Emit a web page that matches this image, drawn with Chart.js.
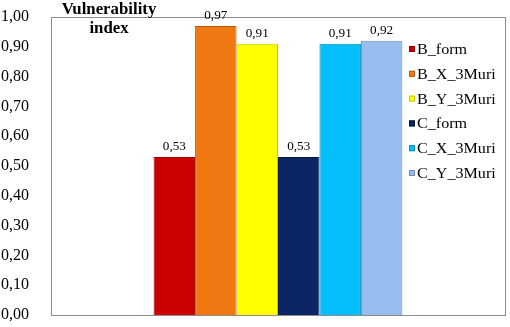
<!DOCTYPE html>
<html>
<head>
<meta charset="utf-8">
<script src="https://cdn.jsdelivr.net/npm/chart.js@4/dist/chart.umd.min.js"></script>
<style>
  html, body { margin: 0; padding: 0; background: #fff; }
  #wrap { width: 510px; height: 327px; }
</style>
</head>
<body>
<div id="wrap"><canvas id="chart-vulnerability"></canvas></div>
<script>
var seriesNames = ['B_form', 'B_X_3Muri', 'B_Y_3Muri', 'C_form', 'C_X_3Muri', 'C_Y_3Muri'];
var seriesValues = [0.53, 0.97, 0.91, 0.53, 0.91, 0.92];
var seriesColors = ['#cc0000', '#f07812', '#ffff00', '#0b2565', '#05bffc', '#97bdee'];
var edgeColors = ['#9a0000', '#b85a0c', '#c8c800', '#061840', '#0390c0', '#7090b8'];
var yTicks = [0, 0.1, 0.2, 0.3, 0.4, 0.5, 0.6, 0.7, 0.8, 0.9, 1.0];
var axisTitle = ['Vulnerability', 'index'];

function comma(v) {
    return v.toFixed(2).replace('.', ',');
}

function stretchedText(ctx, text, x, y, sx, align) {
    ctx.save();
    ctx.translate(x, y);
    ctx.scale(sx, 1);
    ctx.textAlign = align;
    ctx.fillText(text, 0, 0);
    ctx.restore();
}

// frame round the plot, value labels, axis title and the legend inside the plot
var extras = {
    id: 'extras',
    beforeDatasetsDraw: function (chart) {
        var ctx = chart.ctx, a = chart.chartArea;
        ctx.save();
        ctx.strokeStyle = '#8c8c8c';
        ctx.lineWidth = 1;
        ctx.strokeRect(Math.round(a.left) + 0.5, Math.round(a.top) + 0.5,
            Math.round(a.right - a.left), Math.round(a.bottom - a.top));
        ctx.restore();
    },
    afterDatasetsDraw: function (chart) {
        var ctx = chart.ctx, a = chart.chartArea;
        ctx.save();
        ctx.fillStyle = '#000';
        ctx.textBaseline = 'alphabetic';

        ctx.font = '12px "Liberation Serif"';
        chart.data.datasets.forEach(function (ds, i) {
            var bar = chart.getDatasetMeta(i).data[0];
            stretchedText(ctx, comma(ds.data[0]), bar.x, bar.y - 7, 1.1, 'center');
        });

        ctx.font = 'bold 16px "Liberation Serif"';
        stretchedText(ctx, axisTitle[0], a.left + 58, 14, 1.05, 'center');
        stretchedText(ctx, axisTitle[1], a.left + 58, 33, 1.05, 'center');

        ctx.font = '14px "Liberation Serif"';
        chart.data.datasets.forEach(function (ds, i) {
            var y = a.top + 32 + i * 24.8;
            ctx.fillStyle = ds.backgroundColor;
            ctx.fillRect(a.right - 96, y - 3, 6, 6);
            ctx.strokeStyle = ds.borderColor;
            ctx.lineWidth = 1;
            ctx.strokeRect(a.right - 95.5, y - 2.5, 5, 5);
            ctx.fillStyle = '#000';
            stretchedText(ctx, ds.label, a.right - 88, y + 5, 1.15, 'left');
        });
        ctx.restore();
    }
};

function chart() {
    var ctx = document.getElementById('chart-vulnerability');
    if (ctx) {
        new Chart(ctx, {
            type: 'bar',
            data: {
                labels: [''],
                datasets: seriesNames.map(function (name, i) {
                    return {
                        label: name,
                        data: [seriesValues[i]],
                        backgroundColor: seriesColors[i],
                        borderColor: edgeColors[i],
                        borderWidth: 1,
                        categoryPercentage: 0.548,
                        barPercentage: 1
                    };
                })
            },
            options: {
                responsive: true,
                maintainAspectRatio: false,
                animation: false,
                layout: { padding: { top: 17, right: 5, bottom: 12, left: 0 } },
                plugins: {
                    legend: { display: false },
                    tooltip: { enabled: false }
                },
                scales: {
                    x: { display: false },
                    y: {
                        min: 0,
                        max: 1,
                        afterBuildTicks: function (axis) {
                            axis.ticks = yTicks.map(function (v) { return { value: v }; });
                        },
                        afterFit: function (axis) {
                            axis.width = 51;
                            axis.paddingTop = 0;
                            axis.paddingBottom = 0;
                        },
                        grid: { display: false },
                        border: { display: false },
                        ticks: {
                            color: '#000',
                            padding: 14,
                            font: { family: '"Liberation Serif"', size: 16 },
                            callback: function (v) { return comma(v); }
                        }
                    }
                }
            },
            plugins: [extras]
        });
    }
}

chart();
</script>
</body>
</html>
